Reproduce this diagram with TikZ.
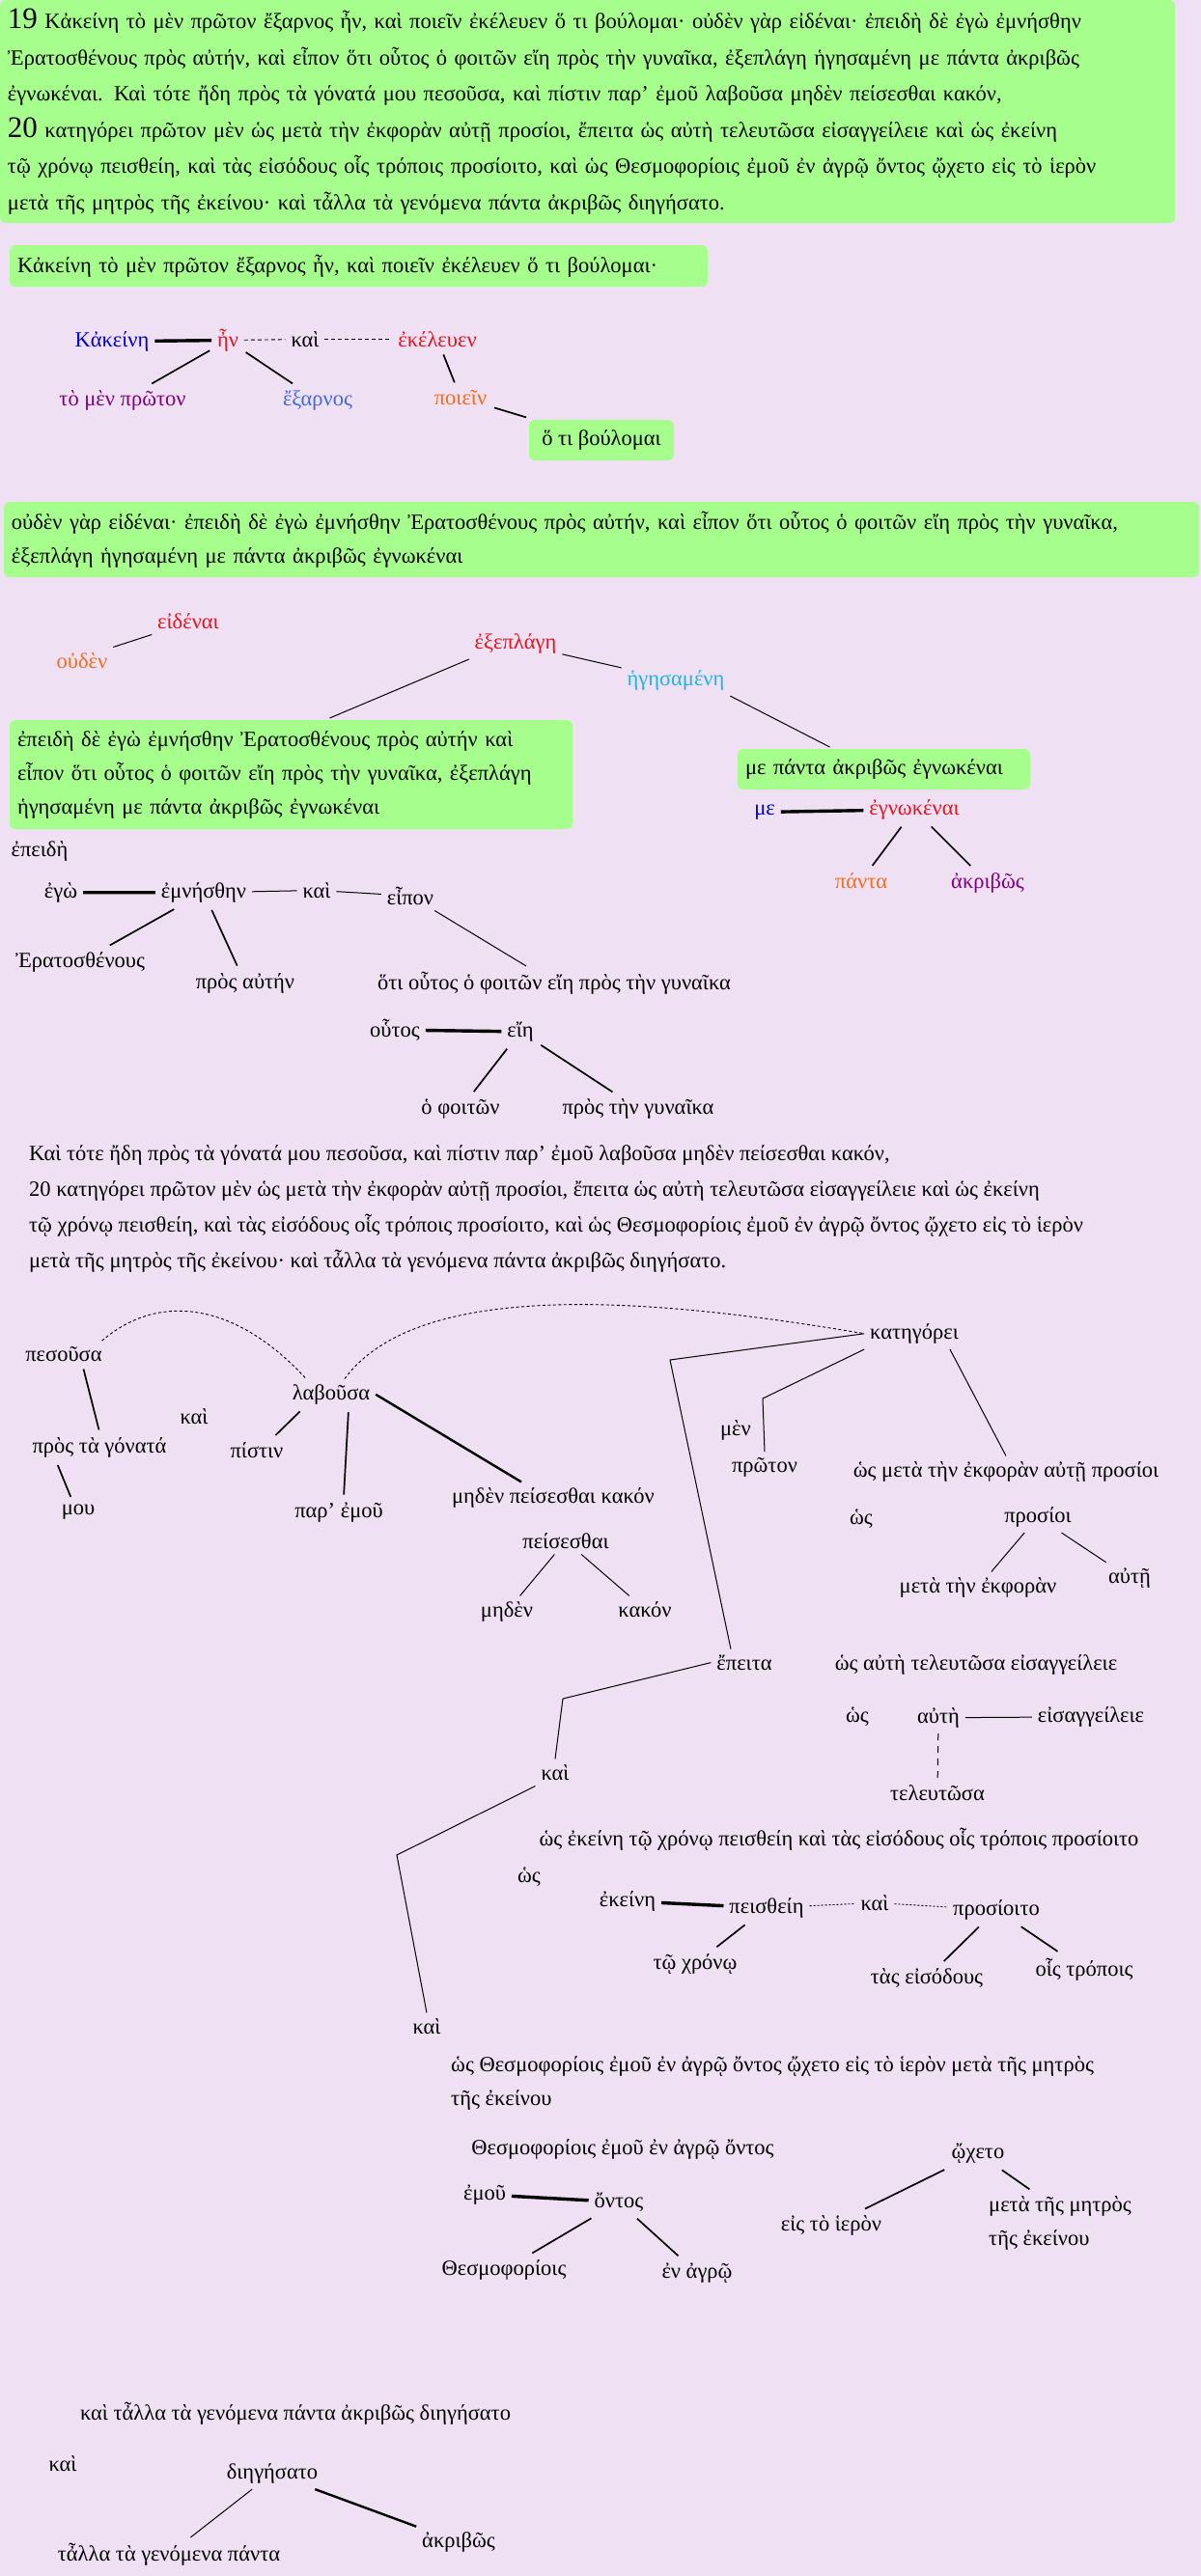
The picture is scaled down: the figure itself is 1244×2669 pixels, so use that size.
\documentclass[tikz,border=0pt]{standalone}
\usepackage{fontspec}
\setmainfont{Liberation Serif}
\usetikzlibrary{positioning,calc}
\definecolor{bgpaper}{RGB}{239,224,244}
\definecolor{boxgreen}{RGB}{166,255,140}
\definecolor{wblue}{RGB}{0,0,210}
\definecolor{wred}{RGB}{230,20,30}
\definecolor{wroyal}{RGB}{65,105,225}
\definecolor{wpurple}{RGB}{128,0,128}
\definecolor{worange}{RGB}{240,110,30}
\definecolor{wsky}{RGB}{30,180,230}
\newcommand{\gk}{\fontsize{22.5}{37.5}\selectfont}
\newcommand{\gkb}{\fontsize{22.5}{35}\selectfont}
\newcommand{\secnum}[1]{{\fontsize{31}{37.5}\selectfont #1}}

\begin{document}
\begin{tikzpicture}[x=1pt, y=-1pt, font=\gk,
  w/.style={inner sep=2pt, outer sep=4pt, anchor=mid},
  gbox/.style={fill=boxgreen, rounded corners=6pt, inner xsep=8pt, inner ysep=3pt, outer sep=2pt, align=left, anchor=north west},
  para/.style={inner sep=0pt, anchor=north west, align=left},
  bond/.style={line width=3.4pt},
  heavy/.style={line width=2.4pt},
  dep/.style={line width=1.7pt, shorten <=2pt, shorten >=2pt},
  lite/.style={line width=1pt},
  coordline/.style={line width=0.9pt, dash pattern=on 4pt off 3pt},
  dotline/.style={line width=0.9pt, dash pattern=on 2pt off 2pt}]
\useasboundingbox (0,0) rectangle (1244,2669);
\fill[bgpaper] (0,0) rectangle (1244,2669);

% full text of 19--20
\node[gbox, text width=1201pt, minimum height=231pt, outer sep=0pt] (p19) at (0,0)
  {\secnum{19} Κἀκείνη τὸ μὲν πρῶτον ἔξαρνος ἦν, καὶ ποιεῖν ἐκέλευεν ὅ τι βούλομαι· οὐδὲν γὰρ εἰδέναι· ἐπειδὴ δὲ ἐγὼ ἐμνήσθην\\
   Ἐρατοσθένους πρὸς αὐτήν, καὶ εἶπον ὅτι οὗτος ὁ φοιτῶν εἴη πρὸς τὴν γυναῖκα, ἐξεπλάγη ἡγησαμένη με πάντα ἀκριβῶς\\
   ἐγνωκέναι. Καὶ τότε ἤδη πρὸς τὰ γόνατά μου πεσοῦσα, καὶ πίστιν παρ’ ἐμοῦ λαβοῦσα μηδὲν πείσεσθαι κακόν,\\
   \secnum{20} κατηγόρει πρῶτον μὲν ὡς μετὰ τὴν ἐκφορὰν αὐτῇ προσίοι, ἔπειτα ὡς αὐτὴ τελευτῶσα εἰσαγγείλειε καὶ ὡς ἐκείνη\\
   τῷ χρόνῳ πεισθείη, καὶ τὰς εἰσόδους οἷς τρόποις προσίοιτο, καὶ ὡς Θεσμοφορίοις ἐμοῦ ἐν ἀγρῷ ὄντος ᾤχετο εἰς τὸ ἱερὸν\\
   μετὰ τῆς μητρὸς τῆς ἐκείνου· καὶ τἆλλα τὰ γενόμενα πάντα ἀκριβῶς διηγήσατο.};

% first sentence
\node[gbox, text width=707pt, minimum height=43pt] (s1) at (8,252)
  {Κἀκείνη τὸ μὲν πρῶτον ἔξαρνος ἦν, καὶ ποιεῖν ἐκέλευεν ὅ τι βούλομαι·};
\node[w, text=wblue] (kak) at (116,357) {Κἀκείνη};
\node[w, text=wred] (hn) at (236,357) {ἦν};
\node[w] (kai1) at (316,357) {καὶ};
\node[w, text=wred] (ekel) at (453,357) {ἐκέλευεν};
\node[w, text=wpurple] (tmp) at (127,418) {τὸ μὲν πρῶτον};
\node[w, text=wroyal] (exar) at (329,418) {ἔξαρνος};
\node[w, text=worange] (poiein) at (477,417) {ποιεῖν};
\node[gbox, anchor=center, align=center, minimum width=150pt, minimum height=42pt] (bou) at (623,456) {ὅ τι βούλομαι};
\draw[bond] (kak) -- (hn);
\draw[dep] (hn) -- (tmp);
\draw[dep] (hn) -- (exar);
\draw[coordline] (hn) -- (kai1);
\draw[coordline] (kai1) -- (ekel);
\draw[dep] (ekel) -- (poiein);
\draw[dep] (poiein) -- (bou);

% second sentence
\node[gbox, text width=1222pt, minimum height=78pt, font=\gkb] (s2) at (2,518)
  {οὐδὲν γὰρ εἰδέναι· ἐπειδὴ δὲ ἐγὼ ἐμνήσθην Ἐρατοσθένους πρὸς αὐτήν, καὶ εἶπον ὅτι οὗτος ὁ φοιτῶν εἴη πρὸς τὴν γυναῖκα,\\
   ἐξεπλάγη ἡγησαμένη με πάντα ἀκριβῶς ἐγνωκέναι};
\node[w, text=wred] (eid) at (195,649) {εἰδέναι};
\node[w, text=worange] (oud) at (85,690) {οὐδὲν};
\node[w, text=wred] (exe) at (534,670) {ἐξεπλάγη};
\node[w, text=wsky] (heg) at (700,708) {ἡγησαμένη};
\node[gbox, text width=567pt, minimum height=113pt, font=\gkb] (epbox) at (8,744)
  {ἐπειδὴ δὲ ἐγὼ ἐμνήσθην Ἐρατοσθένους πρὸς αὐτήν καὶ\\
   εἶπον ὅτι οὗτος ὁ φοιτῶν εἴη πρὸς τὴν γυναῖκα, ἐξεπλάγη\\
   ἡγησαμένη με πάντα ἀκριβῶς ἐγνωκέναι};
\node[gbox, text width=287pt, minimum height=42pt] (mebox) at (762,774) {με πάντα ἀκριβῶς ἐγνωκέναι};
\node[w, text=wblue] (me) at (792,842) {με};
\node[w, text=wred] (egn) at (947,842) {ἐγνωκέναι};
\node[w, text=worange] (panta) at (892,918) {πάντα};
\node[w, text=wpurple] (akr) at (1023,918) {ἀκριβῶς};
\draw[lite] (oud.north east) -- (eid.south west);
\draw[lite] (exe) -- (heg);
\draw[lite] (exe.south west) -- ([xshift=40pt]epbox.north);
\draw[lite] (heg.south east) -- ([xshift=-56pt]mebox.north);
\draw[bond] (me) -- (egn);
\draw[dep] (egn) -- (panta);
\draw[dep] (egn) -- (akr);

% epeide clause
\node[w] (epei) at (41,885) {ἐπειδὴ};
\node[w] (ego) at (63,928) {ἐγὼ};
\node[w] (emn) at (211,928) {ἐμνήσθην};
\node[w] (kai2) at (328,928) {καὶ};
\node[w] (eipon) at (425,935) {εἶπον};
\node[w] (erat) at (83,1000) {Ἐρατοσθένους};
\node[w] (prau) at (254,1022) {πρὸς αὐτήν};
\node[w] (hoti) at (574,1023) {ὅτι οὗτος ὁ φοιτῶν εἴη πρὸς τὴν γυναῖκα};
\node[w] (hout) at (409,1072) {οὗτος};
\node[w] (eie) at (539,1072) {εἴη};
\node[w] (hoph) at (477,1152) {ὁ φοιτῶν};
\node[w] (prgyn) at (661,1152) {πρὸς τὴν γυναῖκα};
\draw[bond] (ego) -- (emn);
\draw[lite] (emn) -- (kai2);
\draw[lite] (kai2) -- (eipon);
\draw[dep] (emn) -- (erat);
\draw[dep] (emn) -- (prau);
\draw[lite] (eipon) -- (hoti);
\draw[bond] (hout) -- (eie);
\draw[dep] (eie) -- (hoph);
\draw[dep] (eie) -- (prgyn);

% rest of the text
\node[para, font=\fontsize{22.5}{37}\selectfont] (rest) at (30,1186)
  {Καὶ τότε ἤδη πρὸς τὰ γόνατά μου πεσοῦσα, καὶ πίστιν παρ’ ἐμοῦ λαβοῦσα μηδὲν πείσεσθαι κακόν,\\
   20 κατηγόρει πρῶτον μὲν ὡς μετὰ τὴν ἐκφορὰν αὐτῇ προσίοι, ἔπειτα ὡς αὐτὴ τελευτῶσα εἰσαγγείλειε καὶ ὡς ἐκείνη\\
   τῷ χρόνῳ πεισθείη, καὶ τὰς εἰσόδους οἷς τρόποις προσίοιτο, καὶ ὡς Θεσμοφορίοις ἐμοῦ ἐν ἀγρῷ ὄντος ᾤχετο εἰς τὸ ἱερὸν\\
   μετὰ τῆς μητρὸς τῆς ἐκείνου· καὶ τἆλλα τὰ γενόμενα πάντα ἀκριβῶς διηγήσατο.};

% pesousa / labousa / kategorei
\node[w] (pes) at (66,1408) {πεσοῦσα};
\node[w] (gon) at (103,1503) {πρὸς τὰ γόνατά};
\node[w] (mou) at (81,1567) {μου};
\node[w] (kai3) at (201,1473) {καὶ};
\node[w] (lab) at (343,1448) {λαβοῦσα};
\node[w] (pist) at (266,1508) {πίστιν};
\node[w] (parem) at (351,1570) {παρ’ ἐμοῦ};
\node[w] (mpk) at (573,1555) {μηδὲν πείσεσθαι κακόν};
\node[w] (peis) at (586,1602) {πείσεσθαι};
\node[w] (meden) at (525,1673) {μηδὲν};
\node[w] (kakon) at (668,1673) {κακόν};
\node[w] (kat) at (947,1385) {κατηγόρει};
\node[w] (men) at (762,1485) {μὲν};
\node[w] (prot) at (792,1523) {πρῶτον};
\node[w] (wmeta) at (1042,1528) {ὡς μετὰ τὴν ἐκφορὰν αὐτῇ προσίοι};
\node[w] (hos1) at (892,1577) {ὡς};
\node[w] (pros) at (1075,1575) {προσίοι};
\node[w] (ekph) at (1013,1648) {μετὰ τὴν ἐκφορὰν};
\node[w] (aute) at (1170,1638) {αὐτῇ};
\node[w] (ep) at (771,1728) {ἔπειτα};
\draw[coordline, dash pattern=on 3pt off 2.5pt] ([xshift=-6pt]pes.north east) .. controls (165,1338) and (245,1350) .. ([xshift=-26pt]lab.north);
\draw[coordline, dash pattern=on 3pt off 2.5pt] ([xshift=14pt]lab.north) .. controls (430,1330) and (650,1340) .. (kat.west);
\draw[dep] ([xshift=20pt]pes.south) -- (gon.north);
\draw[dep] ([xshift=-44pt]gon.south) -- ([xshift=-7pt]mou.north);
\draw[dep] ([xshift=-31pt]lab.south) -- ([xshift=18pt]pist.north);
\draw[dep] ([xshift=18pt]lab.south) -- ([xshift=5pt]parem.north);
\draw[heavy] (lab.east) -- ([xshift=-33pt]mpk.north);
\draw[lite] (peis) -- (meden);
\draw[lite] (peis) -- (kakon);
\coordinate (kc1) at (694,1409);
\coordinate (kc2) at (790,1449);
\draw[lite] (kat.west) -- (kc1) -- ([xshift=-14pt]ep.north);
\draw[lite] (kat.south west) -- (kc2) -- (prot.north);
\draw[lite] ([xshift=37pt]kat.south) -- (wmeta.north);
\draw[lite] (pros) -- (ekph);
\draw[lite] (pros) -- (aute);

% epeita
\node[w] (waut) at (1011,1728) {ὡς αὐτὴ τελευτῶσα εἰσαγγείλειε};
\node[w] (hos2) at (888,1782) {ὡς};
\node[w] (autei) at (972,1783) {αὐτὴ};
\node[w] (eisag) at (1130,1782) {εἰσαγγείλειε};
\node[w] (teleut) at (971,1863) {τελευτῶσα};
\node[w] (kai4) at (575,1842) {καὶ};
\node[w] (wekein) at (869,1910) {ὡς ἐκείνη τῷ χρόνῳ πεισθείη καὶ τὰς εἰσόδους οἷς τρόποις προσίοιτο};
\node[w] (hos3) at (548,1948) {ὡς};
\node[w] (ekein) at (650,1973) {ἐκείνη};
\node[w] (peisth) at (794,1980) {πεισθείη};
\node[w] (kai5) at (906,1977) {καὶ};
\node[w] (prosi) at (1032,1982) {προσίοιτο};
\node[w] (xron) at (720,2038) {τῷ χρόνῳ};
\node[w] (eisod) at (960,2053) {τὰς εἰσόδους};
\node[w] (trop) at (1123,2045) {οἷς τρόποις};
\node[w] (kai6) at (442,2105) {καὶ};
\coordinate (ec1) at (583,1760);
\coordinate (ec2) at (411,1922);
\draw[lite] (ep.west) -- (ec1) -- (kai4.north);
\draw[lite] (kai4.south west) -- (ec2) -- (kai6.north);
\draw[lite] (autei) -- (eisag);
\draw[lite, dash pattern=on 7pt off 6pt] (autei) -- (teleut);
\draw[bond] (ekein) -- (peisth);
\draw[dotline] (peisth) -- (kai5);
\draw[dotline] (kai5) -- (prosi);
\draw[dep] (peisth) -- (xron);
\draw[dep] (prosi) -- (eisod);
\draw[dep] (prosi) -- (trop);

% Thesmophoria
\node[para, font=\fontsize{22.5}{35}\selectfont] (wthes) at (467,2130)
  {ὡς Θεσμοφορίοις ἐμοῦ ἐν ἀγρῷ ὄντος ᾤχετο εἰς τὸ ἱερὸν μετὰ τῆς μητρὸς\\τῆς ἐκείνου};
\node[w] (thesph) at (645,2230) {Θεσμοφορίοις ἐμοῦ ἐν ἀγρῷ ὄντος};
\node[w] (emou) at (502,2277) {ἐμοῦ};
\node[w] (ontos) at (641,2285) {ὄντος};
\node[w] (thes) at (522,2355) {Θεσμοφορίοις};
\node[w] (agro) at (722,2358) {ἐν ἀγρῷ};
\node[w] (wxeto) at (1013,2234) {ᾤχετο};
\node[w] (hieron) at (861,2309) {εἰς τὸ ἱερὸν};
\node[w, align=left, font=\fontsize{22.5}{35}\selectfont] (metr) at (1098,2324) {μετὰ τῆς μητρὸς\\τῆς ἐκείνου};
\draw[bond] (emou) -- (ontos);
\draw[dep] (ontos) -- (thes);
\draw[dep] (ontos) -- (agro);
\draw[dep] (wxeto) -- (hieron);
\draw[dep] (wxeto) -- ([xshift=-30pt]metr.north);

% kai talla
\node[w] (kta) at (306,2505) {καὶ τἆλλα τὰ γενόμενα πάντα ἀκριβῶς διηγήσατο};
\node[w] (kai7) at (65,2558) {καὶ};
\node[w] (dieg) at (282,2566) {διηγήσατο};
\node[w] (talla) at (175,2651) {τἆλλα τὰ γενόμενα πάντα};
\node[w] (akr2) at (475,2637) {ἀκριβῶς};
\draw[lite] (dieg) -- (talla);
\draw[heavy] (dieg) -- (akr2);
\end{tikzpicture}
\end{document}
